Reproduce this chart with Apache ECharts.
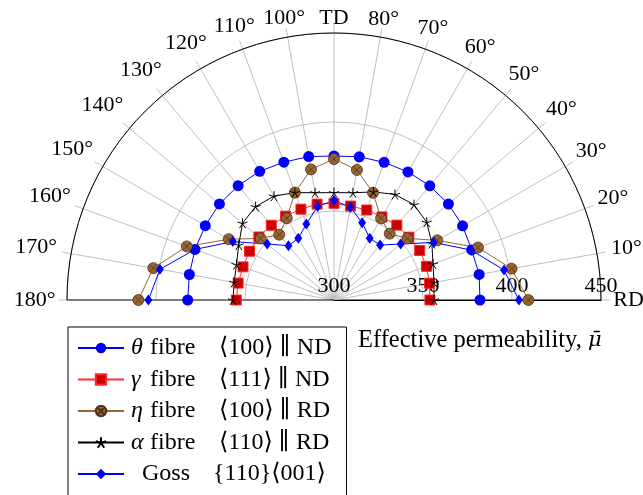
<!DOCTYPE html>
<html>
<head>
<meta charset="utf-8">
<script src="https://cdn.jsdelivr.net/npm/echarts@6/dist/echarts.min.js"></script>
<style>
  html, body { margin: 0; padding: 0; background: #fff; }
  #root { width: 643px; height: 495px; }
</style>
</head>
<body>
<div id="root"></div>
<script>
// angles (degrees from RD) and effective permeability per fibre
var angles = [0, 10, 20, 30, 40, 50, 60, 70, 80, 90, 100, 110, 120, 130, 140, 150, 160, 170, 180]
var thetaFibre = [382.0, 382.8, 382.3, 383.4, 383.9, 383.7, 383.1, 382.3, 381.7, 380.9, 381.8, 382.4, 383.5, 383.8, 384.0, 383.5, 383.1, 382.5, 382.2]
var gammaFibre = [353.9, 354.4, 355.3, 355.6, 354.9, 354.9, 353.9, 353.8, 353.6, 354.3, 354.7, 354.3, 354.4, 354.8, 355.1, 354.8, 354.4, 354.7, 354.9]
var etaFibre = [409.2, 401.3, 386.1, 367.0, 353.8, 348.7, 352.9, 364.1, 374.2, 379.2, 374.5, 364.2, 353.1, 347.9, 353.8, 368.3, 388.0, 403.1, 409.9]
var alphaFibre = [356.2, 357.0, 359.2, 363.5, 368.0, 369.9, 368.5, 364.6, 361.2, 360.3, 361.2, 364.2, 367.4, 368.5, 367.1, 361.8, 358.3, 357.0, 356.7]
var goss = [403.9, 397.0, 382.0, 364.7, 348.9, 340.3, 340.1, 346.2, 352.9, 356.0, 353.3, 345.4, 340.1, 339.8, 349.0, 365.6, 383.1, 399.3, 404.3]

var radiusTicks = [300, 350, 400, 450]
var seriesKeys = ['theta', 'gamma', 'eta', 'alpha', 'goss']
var legendGreek = ['θ', 'γ', 'η', 'α', '']
var legendFirst = ['fibre', 'fibre', 'fibre', 'fibre', 'Goss']
var legendSecond = ['⟨100⟩ ∥ ND', '⟨111⟩ ∥ ND', '⟨100⟩ ∥ RD', '⟨110⟩ ∥ RD', '{110}⟨001⟩']

var serif = '"Liberation Serif", "DejaVu Serif", serif'
var grid = '#c0c0c0'
var polarRadius = 267
var labelMargin = -60

// star (asterisk) and circle-with-cross marks
var starPath = 'path://M0 0L0 -1M0 0L0.951 -0.309M0 0L0.588 0.809M0 0L-0.588 0.809M0 0L-0.951 -0.309'
var otimesPath = 'path://M1 0A1 1 0 1 1 -1 0A1 1 0 1 1 1 0ZM0.707 0.707L-0.707 -0.707M-0.707 0.707L0.707 -0.707'

function pairs(vals) {
  return angles.map(function (a, i) { return [vals[i], a] })
}

function angleText(v) {
  if (v === 0) return 'RD'
  if (v === 90) return 'TD'
  return v + '°'
}

// echarts anchors angle labels by a corner; pad each one so its centre
// sits where pgfplots puts it (pushed out by part of its half width)
var measure = document.createElement('canvas').getContext('2d')
measure.font = '22px "Liberation Serif"'
var angleRich = {}
angles.forEach(function (a) {
  var w = measure.measureText(angleText(a)).width
  var c = Math.cos(a * Math.PI / 180), s = Math.sin(a * Math.PI / 180)
  var f = Math.min(1, 1.4 * Math.abs(c)) - (Math.abs(s) < 0.1 ? 0.15 : 0)
  var dist = polarRadius + 14.5 + w / 2 * f
  var px = (polarRadius + labelMargin) * c, py = -(polarRadius + labelMargin) * s
  var tx = dist * c, ty = -dist * s
  var h = Math.abs(px) / polarRadius < 0.3 ? 'center' : (px > 0 ? 'left' : 'right')
  var v = Math.abs(py) / polarRadius < 0.3 ? 'middle' : (py > 0 ? 'top' : 'bottom')
  var pl = 0, pr = 0, pt = 0, pb = 0
  if (h === 'left') pl = tx - px - w / 2
  else if (h === 'right') pr = px - w / 2 - tx
  else if (tx > px) pl = 2 * (tx - px)
  else pr = 2 * (px - tx)
  var lineMid = v === 'bottom' ? py - 7.5 : (v === 'top' ? py + 7.5 : py)
  var d = ty - lineMid
  if (d > 0) pt = 2 * d
  else pb = -2 * d
  angleRich['a' + a] = {
    fontFamily: serif, fontSize: 22, lineHeight: 15, color: '#000',
    padding: [pt, Math.max(pr, 0), pb, Math.max(pl, 0)]
  }
})

// split line colours: black at 0 and 180, grey in between
var spokeColors = angles.map(function (a) { return (a === 0 || a === 180) ? '#000' : grid })

var chart = echarts.init(document.getElementById('root'))

var option = {
  animation: false,
  backgroundColor: '#fff',
  polar: { center: [334, 300], radius: polarRadius },
  angleAxis: {
    type: 'value', min: 0, max: 180, interval: 10,
    startAngle: 0, endAngle: 180, clockwise: false,
    axisLine: { lineStyle: { color: '#000', width: 1 } },
    axisTick: { show: true, length: 9, lineStyle: { color: grid, width: 1 } },
    splitLine: { show: true, lineStyle: { color: spokeColors, width: 1 } },
    axisLabel: {
      margin: labelMargin,
      fontFamily: serif, fontSize: 22, lineHeight: 15, color: '#000',
      formatter: function (v) { return '{a' + v + '|' + angleText(v) + '}' },
      rich: angleRich
    }
  },
  radiusAxis: {
    type: 'value', min: radiusTicks[0], max: radiusTicks[radiusTicks.length - 1], interval: 50,
    axisLine: { lineStyle: { color: '#000', width: 1 } },
    axisTick: { show: false },
    splitLine: { show: true, lineStyle: { color: grid, width: 1 } },
    axisLabel: { margin: 3, fontFamily: serif, fontSize: 22, color: '#000' }
  },
  title: {
    text: 'Effective permeability, {m|μ̄}',
    left: 353, top: 323,
    textStyle: {
      fontFamily: serif, fontSize: 24.5, fontWeight: 'normal', color: '#000',
      rich: { m: { fontFamily: '"DejaVu Serif"', fontSize: 21, fontStyle: 'italic', color: '#000' } }
    }
  },
  legend: {
    orient: 'vertical', left: 68, top: 327, height: 240,
    padding: [9, 15, 45, 9],
    itemWidth: 46, itemHeight: 13, itemGap: 7.5,
    borderColor: '#000', borderWidth: 1, backgroundColor: '#fff', borderRadius: 0,
    data: seriesKeys,
    formatter: function (name) {
      var i = seriesKeys.indexOf(name)
      if (!legendGreek[i]) {
        // braces of "{110}" are split so the rich parser leaves them as text
        var parts = legendSecond[i].split('}')
        return '{s|' + legendFirst[i] + '}{x|' + parts[0] + '}}{y|' + parts[1] + '}'
      }
      return '{g|' + legendGreek[i] + '}{f| ' + legendFirst[i] + '}{c|' + legendSecond[i] + '}'
    },
    textStyle: {
      fontFamily: serif, fontSize: 24, color: '#000', lineHeight: 24,
      rich: {
        g: { fontFamily: serif, fontSize: 24, fontStyle: 'italic', lineHeight: 24, width: 13, padding: [0, 0, 0, 2] },
        f: { fontFamily: serif, fontSize: 24, lineHeight: 24, width: 75 },
        c: { fontFamily: serif, fontSize: 24, lineHeight: 24 },
        s: { fontFamily: serif, fontSize: 24, lineHeight: 24, width: 71, padding: [0, 0, 0, 13] },
        x: { fontFamily: serif, fontSize: 24, lineHeight: 24 },
        y: { fontFamily: serif, fontSize: 24, lineHeight: 24 }
      }
    }
  },
  series: [
    {
      name: 'theta', type: 'line', coordinateSystem: 'polar',
      data: pairs(thetaFibre),
      symbol: 'circle', symbolSize: 11,
      lineStyle: { color: '#0000ff', width: 1 },
      itemStyle: { color: '#0000ff' }
    },
    {
      name: 'gamma', type: 'line', coordinateSystem: 'polar',
      data: pairs(gammaFibre),
      symbol: 'rect', symbolSize: 10,
      lineStyle: { color: '#ff3030', width: 1 },
      itemStyle: { color: '#cc0000', borderColor: '#ff2a2a', borderWidth: 1 }
    },
    {
      name: 'eta', type: 'line', coordinateSystem: 'polar',
      data: pairs(etaFibre),
      symbol: otimesPath, symbolSize: 11,
      lineStyle: { color: '#996633', width: 1 },
      itemStyle: { color: '#996633', borderColor: '#4d3319', borderWidth: 0.8 }
    },
    {
      name: 'alpha', type: 'line', coordinateSystem: 'polar',
      data: pairs(alphaFibre),
      symbol: starPath, symbolSize: 10,
      lineStyle: { color: '#000', width: 1 },
      itemStyle: { color: '#000', borderColor: '#000', borderWidth: 1 }
    },
    {
      name: 'goss', type: 'line', coordinateSystem: 'polar',
      data: pairs(goss),
      symbol: 'diamond', symbolSize: [8, 11],
      lineStyle: { color: '#0000ff', width: 1 },
      itemStyle: { color: '#0000ff' }
    }
  ]
}

chart.setOption(option)
window.addEventListener('resize', chart.resize)
</script>
</body>
</html>
